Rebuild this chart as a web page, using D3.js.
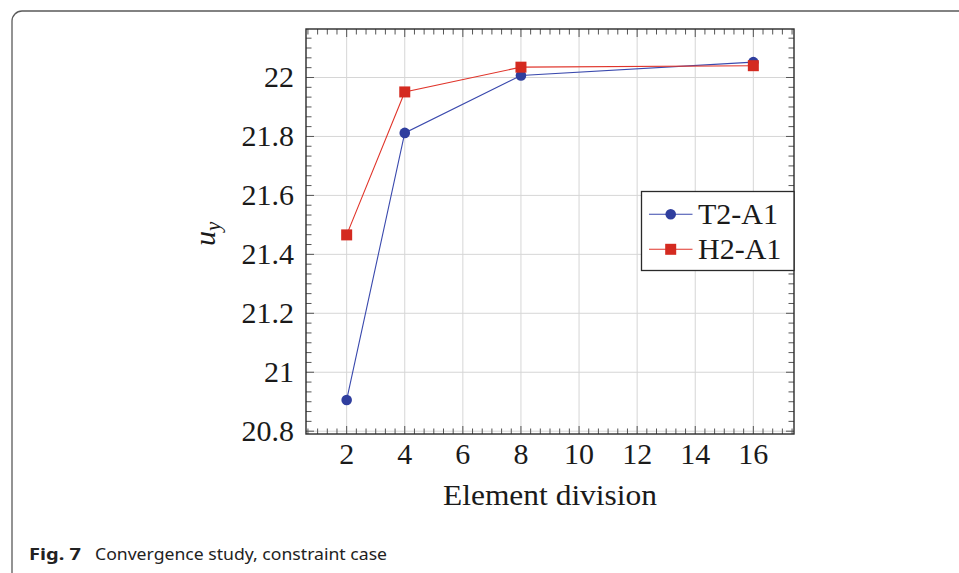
<!DOCTYPE html>
<html>
<head>
<meta charset="utf-8">
<script src="https://cdn.jsdelivr.net/npm/d3@7"></script>
<style>
  html, body { margin: 0; padding: 0; background: #fff; }
  svg { display: block; }
  .serif { font-family: "Liberation Serif", "Times New Roman", serif; fill: #1a1a1a; }
</style>
</head>
<body>
<svg id="chart" width="959" height="573"></svg>
<script>
// ---- data ----
const divisions = [2, 4, 8, 16];
const t2a1 = [20.906, 21.812, 22.007, 22.052];
const h2a1 = [21.466, 21.951, 22.035, 22.040];
const xTicks = [2, 4, 6, 8, 10, 12, 14, 16];
const yTicks = [20.8, 21, 21.2, 21.4, 21.6, 21.8, 22];
const seriesNames = ["T2-A1", "H2-A1"];
const seriesColors = ["#2f3e9e", "#d42a20"];
const lineColors = ["#3a49ad", "#e0352b"];

const svg = d3.select("#chart");

// outer frame (rounded, cut off at right/bottom)
svg.append("rect")
  .attr("x", 12).attr("y", 11)
  .attr("width", 1000).attr("height", 700)
  .attr("rx", 10).attr("ry", 10)
  .attr("fill", "none").attr("stroke", "#5a5a5a").attr("stroke-width", 1.3);

const L = 306, R = 794, T = 29, B = 434;
const x = d3.scaleLinear().domain([0.6, 17.4]).range([L, R]);
const y = d3.scaleLinear().domain([20.7905, 22.1645]).range([B, T]);

// grid
const g = svg.append("g");
g.selectAll(".gx").data(xTicks).enter().append("line")
  .attr("x1", d => x(d)).attr("x2", d => x(d)).attr("y1", T).attr("y2", B)
  .attr("stroke", "#d6d6d6").attr("stroke-width", 1);
g.selectAll(".gy").data(yTicks).enter().append("line")
  .attr("y1", d => y(d)).attr("y2", d => y(d)).attr("x1", L).attr("x2", R)
  .attr("stroke", "#d6d6d6").attr("stroke-width", 1);

// minor ticks values
const xMinor = [];
for (let k = Math.ceil(0.6 * 3); k <= Math.floor(17.4 * 3); k++) {
  if (k % 6 !== 0) xMinor.push(k / 3);
}
const yMinor = [];
for (let k = Math.ceil(20.7905 * 30); k <= Math.floor(22.1645 * 30); k++) {
  if (k % 6 !== 0) yMinor.push(k / 30);
}

const majLen = 8, minLen = 5.5, tickCol = "#555";
const ticks = svg.append("g").attr("stroke", tickCol).attr("stroke-width", 1);
function xt(vals, len) {
  ticks.selectAll(null).data(vals).enter().append("line")
    .attr("x1", d => x(d)).attr("x2", d => x(d)).attr("y1", B).attr("y2", B - len);
  ticks.selectAll(null).data(vals).enter().append("line")
    .attr("x1", d => x(d)).attr("x2", d => x(d)).attr("y1", T).attr("y2", T + len);
}
function yt(vals, len) {
  ticks.selectAll(null).data(vals).enter().append("line")
    .attr("y1", d => y(d)).attr("y2", d => y(d)).attr("x1", L).attr("x2", L + len);
  ticks.selectAll(null).data(vals).enter().append("line")
    .attr("y1", d => y(d)).attr("y2", d => y(d)).attr("x1", R).attr("x2", R - len);
}
xt(xMinor, minLen); xt(xTicks, majLen);
yt(yMinor, minLen); yt(yTicks, majLen);

// axis frame
svg.append("rect").attr("x", L).attr("y", T).attr("width", R - L).attr("height", B - T)
  .attr("fill", "none").attr("stroke", "#2a2a2a").attr("stroke-width", 1.4);

// tick labels
svg.selectAll(".xl").data(xTicks).enter().append("text")
  .attr("class", "serif").attr("x", d => x(d)).attr("y", 464)
  .attr("text-anchor", "middle").attr("font-size", 30)
  .text(d => d3.format("d")(d));
svg.selectAll(".yl").data(yTicks).enter().append("text")
  .attr("class", "serif").attr("x", 294).attr("y", d => y(d) + 10)
  .attr("text-anchor", "end").attr("font-size", 30)
  .text(d => d3.format("~g")(d));

// axis labels
svg.append("text").attr("class", "serif")
  .attr("x", 443).attr("y", 505)
  .attr("font-size", 30).attr("textLength", 214).attr("lengthAdjust", "spacingAndGlyphs")
  .text("Element division");

const yl = svg.append("text").attr("class", "serif")
  .attr("transform", "translate(215,246) rotate(-90)")
  .attr("font-size", 30);
yl.append("tspan").attr("font-style", "italic").text("u");
yl.append("tspan").attr("font-style", "italic").attr("font-size", 21).attr("dy", 5).text("y");

// series
const seriesData = [t2a1, h2a1];
const line = d3.line().x(d => x(d[0])).y(d => y(d[1]));
seriesData.forEach((vals, i) => {
  const pts = divisions.map((d, j) => [d, vals[j]]);
  svg.append("path").datum(pts).attr("d", line)
    .attr("fill", "none").attr("stroke", lineColors[i]).attr("stroke-width", 1.1);
});
seriesData.forEach((vals, i) => {
  const pts = divisions.map((d, j) => [d, vals[j]]);
  if (i === 0) {
    svg.selectAll(null).data(pts).enter().append("circle")
      .attr("cx", d => x(d[0])).attr("cy", d => y(d[1])).attr("r", 5.3)
      .attr("fill", seriesColors[i]);
  } else {
    svg.selectAll(null).data(pts).enter().append("rect")
      .attr("x", d => x(d[0]) - 5.5).attr("y", d => y(d[1]) - 5.5)
      .attr("width", 11).attr("height", 11).attr("fill", seriesColors[i]);
  }
});

// legend
const lg = svg.append("g");
lg.append("rect").attr("x", 641.5).attr("y", 191.5).attr("width", 152.5).attr("height", 79)
  .attr("fill", "#fff").attr("stroke", "#2a2a2a").attr("stroke-width", 1.3);
const rowsY = [214.3, 249.3];
seriesNames.forEach((name, i) => {
  const yy = rowsY[i];
  lg.append("line").attr("x1", 649).attr("x2", 692.5).attr("y1", yy).attr("y2", yy)
    .attr("stroke", lineColors[i]).attr("stroke-width", 1.1);
  if (i === 0) {
    lg.append("circle").attr("cx", 670.7).attr("cy", yy).attr("r", 5.3).attr("fill", seriesColors[i]);
  } else {
    lg.append("rect").attr("x", 665.2).attr("y", yy - 5.5).attr("width", 11).attr("height", 11)
      .attr("fill", seriesColors[i]);
  }
  lg.append("text").attr("class", "serif").attr("x", 698).attr("y", yy + 9.5)
    .attr("font-size", 30).text(name);
});

// caption
const cap = svg.append("text").attr("x", 29).attr("y", 560)
  .attr("font-family", "'Noto Sans', 'Open Sans', sans-serif").attr("font-size", 16).attr("fill", "#222");
cap.append("tspan").attr("font-weight", "bold").attr("textLength", 52).attr("lengthAdjust", "spacingAndGlyphs").text("Fig. 7");
cap.append("tspan").attr("x", 95).attr("textLength", 292).attr("lengthAdjust", "spacingAndGlyphs")
  .text("Convergence study, constraint case");
</script>
</body>
</html>
